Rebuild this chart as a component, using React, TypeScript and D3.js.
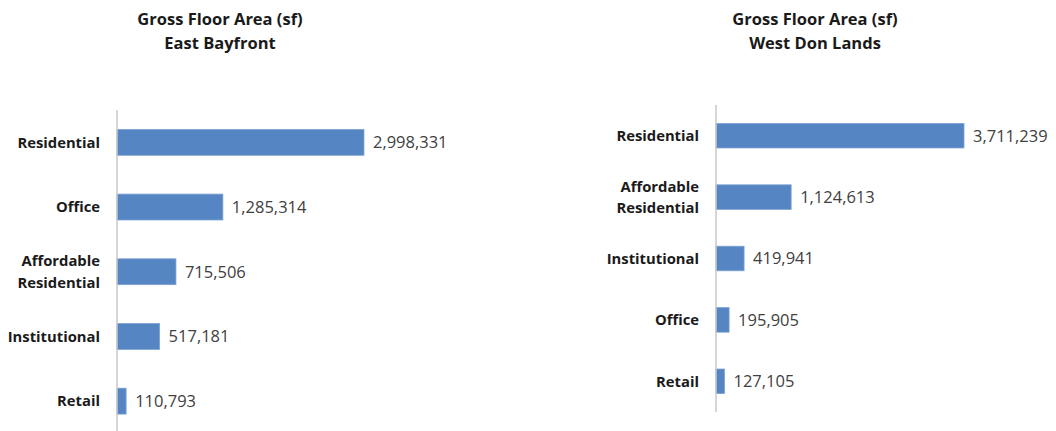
import * as d3 from 'd3';

// East Bayfront
const eastCategories = ['Residential', 'Office', 'Affordable Residential', 'Institutional', 'Retail'];
const eastValues = [2998331, 1285314, 715506, 517181, 110793];

// West Don Lands
const westCategories = ['Residential', 'Affordable Residential', 'Institutional', 'Office', 'Retail'];
const westValues = [3711239, 1124613, 419941, 195905, 127105];

const FONT = '"Open Sans", "Liberation Sans", sans-serif';
const BAR = '#5585c2';
const fmt = d3.format(',');

interface PanelProps {
  title: string[];
  titleX: number;
  categories: string[];
  values: number[];
  axisX: number;
  top: number;
  bottom: number;
  axisBottom: number;
  xMax: number;
  xWidth: number;
}

function Panel({ title, titleX, categories, values, axisX, top, bottom, axisBottom, xMax, xWidth }: PanelProps) {
  const y = d3.scaleBand<string>()
    .domain(categories)
    .range([top, bottom])
    .paddingInner(0.6)
    .paddingOuter(0.3);

  const x = d3.scaleLinear()
    .domain([0, xMax])
    .range([axisX, axisX + xWidth]);

  return (
    <g>
      {/* title */}
      <text x={titleX} y={25} textAnchor="middle" fontFamily={FONT} fontWeight="bold" fontSize={16.5} fill="#1a1a1a">
        {title[0]}
      </text>
      <text x={titleX} y={49} textAnchor="middle" fontFamily={FONT} fontWeight="bold" fontSize={16.5} fill="#1a1a1a">
        {title[1]}
      </text>

      {categories.map((c, i) => {
        const yc = y(c)! + y.bandwidth() / 2;
        const lines = c.split(' ');
        return (
          <g key={c}>
            <rect
              x={x(0)}
              y={y(c)}
              width={x(values[i]) - x(0)}
              height={y.bandwidth()}
              fill={BAR}
              stroke="#7ea3d2"
              strokeWidth={0.8}
            />
            <text
              x={x(values[i]) + 9}
              y={yc}
              dy="0.36em"
              fontFamily={FONT}
              fontSize={16.5}
              fill="#404040"
            >
              {fmt(values[i])}
            </text>
            {lines.map((l, j) => (
              <text
                key={l}
                x={axisX - 17}
                y={yc + (j - (lines.length - 1) / 2) * 21.5}
                dy="0.36em"
                textAnchor="end"
                fontFamily={FONT}
                fontWeight="bold"
                fontSize={14.8}
                fill="#1a1a1a"
              >
                {l}
              </text>
            ))}
          </g>
        );
      })}

      {/* category axis */}
      <line x1={axisX} x2={axisX} y1={top} y2={axisBottom} stroke="#c8c8c8" strokeWidth={1.5} />
    </g>
  );
}

export default function App() {
  return (
    <svg
      width={1056}
      height={431}
      style={{ position: 'absolute', left: 0, top: 0, background: '#fff' }}
    >
      <rect width={1056} height={431} fill="#fff" />
      <Panel
        title={['Gross Floor Area (sf)', 'East Bayfront']}
        titleX={220}
        categories={eastCategories}
        values={eastValues}
        axisX={117}
        top={110}
        bottom={433.5}
        axisBottom={431}
        xMax={3500000}
        xWidth={288.3}
      />
      <Panel
        title={['Gross Floor Area (sf)', 'West Don Lands']}
        titleX={815}
        categories={westCategories}
        values={westValues}
        axisX={716}
        top={105}
        bottom={412}
        axisBottom={412}
        xMax={4000000}
        xWidth={267.3}
      />
    </svg>
  );
}
